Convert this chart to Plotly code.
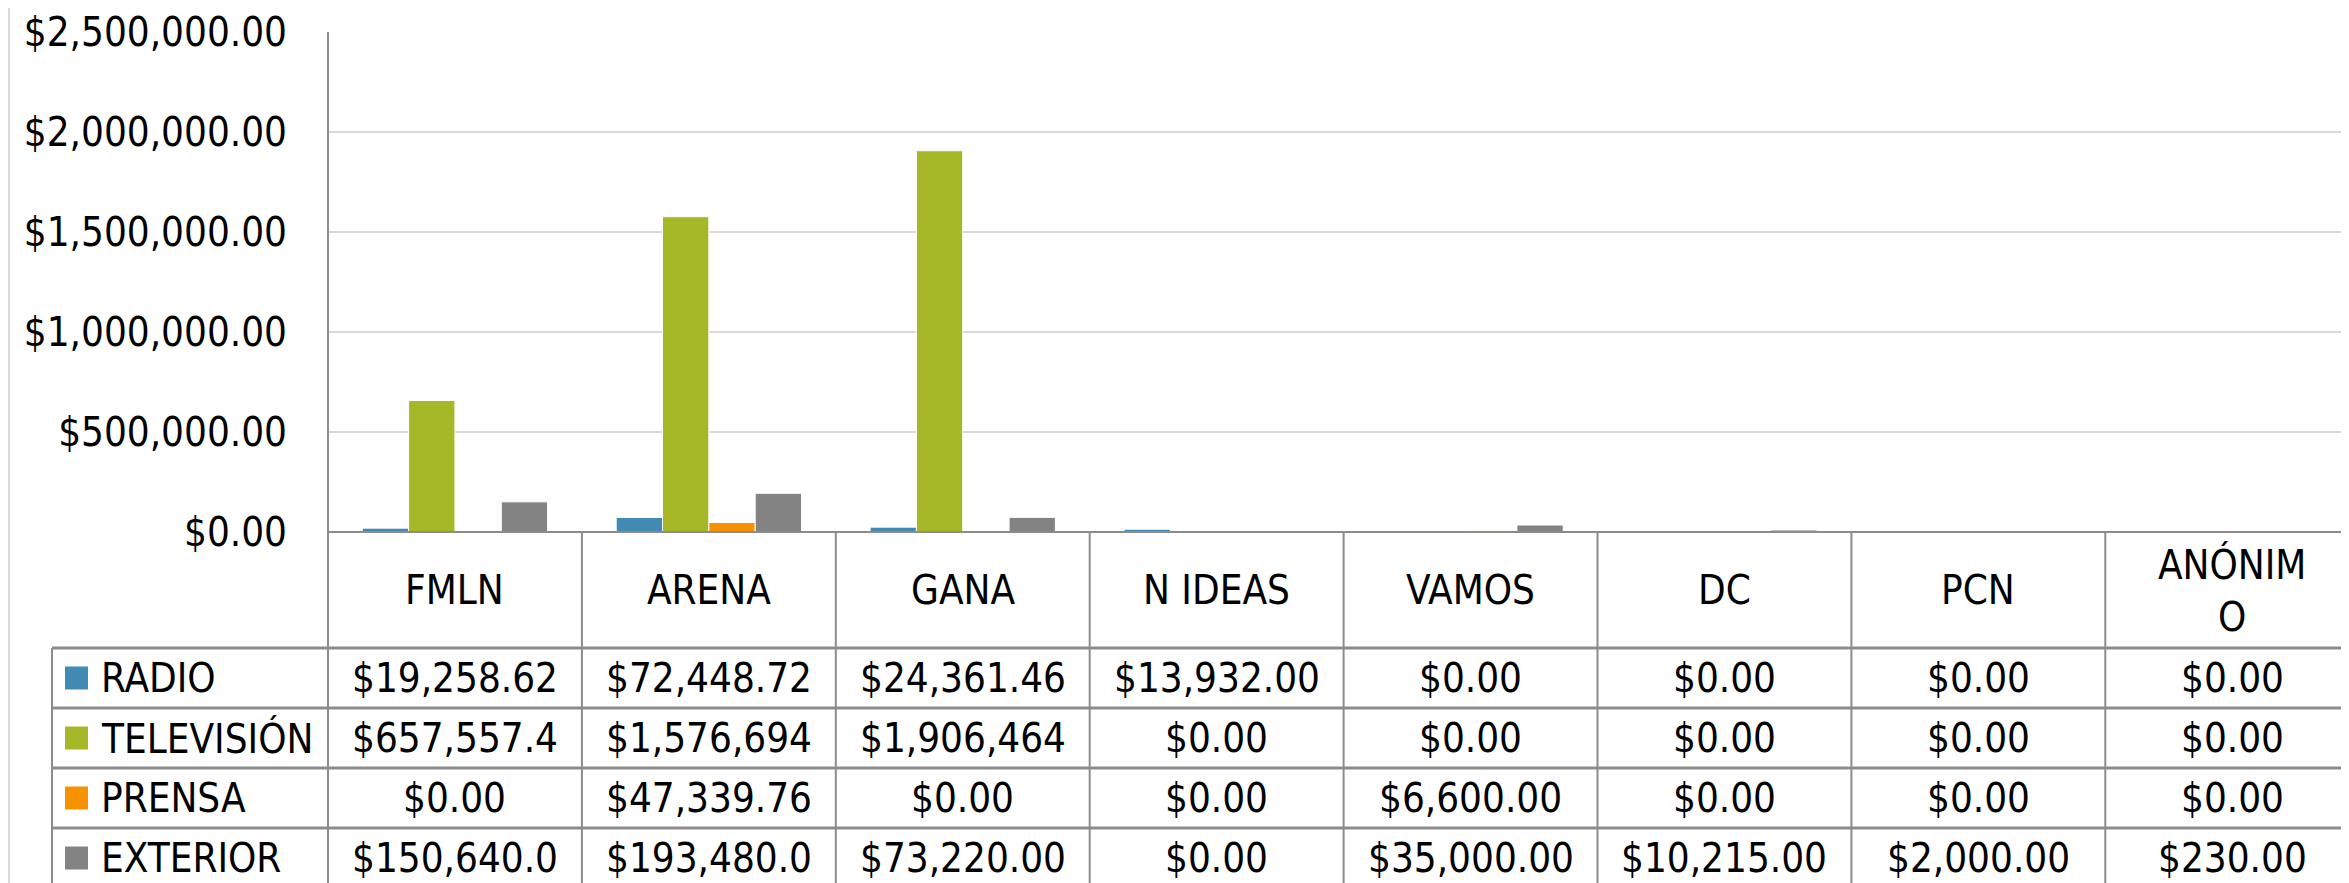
import plotly.graph_objects as go

categories = ["FMLN", "ARENA", "GANA", "N IDEAS", "VAMOS", "DC", "PCN", "ANÓNIMO"]
category_labels = ["FMLN", "ARENA", "GANA", "N IDEAS", "VAMOS", "DC", "PCN", "ANÓNIM<br>O"]
series_names = ["RADIO", "TELEVISIÓN", "PRENSA", "EXTERIOR"]
radio = [19258.62, 72448.72, 24361.46, 13932.00, 0.00, 0.00, 0.00, 0.00]
television = [657557.40, 1576694.00, 1906464.00, 0.00, 0.00, 0.00, 0.00, 0.00]
prensa = [0.00, 47339.76, 0.00, 0.00, 6600.00, 0.00, 0.00, 0.00]
exterior = [150640.00, 193480.00, 73220.00, 0.00, 35000.00, 10215.00, 2000.00, 230.00]
series_values = [radio, television, prensa, exterior]
colors = ["#418AB3", "#A6B727", "#F69200", "#838383"]
y_ticks = [0, 500000, 1000000, 1500000, 2000000, 2500000]
y_tick_labels = ["$0.00", "$500,000.00", "$1,000,000.00", "$1,500,000.00", "$2,000,000.00", "$2,500,000.00"]

W, H = 2349, 883
OFF = 8  # default page body margin
L, T = 328 - OFF, 32 - OFF
B = H - (532 - OFF)
PW = W - L
PH = H - T - B
CAT_W = 253.9
FONT = "DejaVu Sans Condensed, Liberation Sans Narrow, sans-serif"
FS = 40
LINE = "#8C8C8C"


def px(x):
    return (x - OFF - L) / PW


def py(y):
    return (H - B - (y - OFF)) / PH


def fmt(v):
    return ("$" + f"{v:,.2f}")[:10]


n = len(categories)
x_max = -0.5 + PW / CAT_W

fig = go.Figure()
x_idx = list(range(n))
for name, vals, col in zip(series_names, series_values, colors):
    fig.add_trace(go.Bar(x=x_idx, y=vals, name=name, marker=dict(color=col, line=dict(color="white", width=1))))

shapes = []
shapes.append(dict(type="line", xref="paper", yref="paper", x0=0, x1=0, y0=1, y1=py(H + OFF),
                   line=dict(color=LINE, width=2)))
for k in range(1, n):
    shapes.append(dict(type="line", xref="x", yref="paper", x0=k - 0.5, x1=k - 0.5, y0=0, y1=py(H + OFF),
                       line=dict(color=LINE, width=2)))
shapes.append(dict(type="line", xref="paper", yref="paper", x0=0, x1=1, y0=0, y1=0,
                   line=dict(color=LINE, width=2)))
row_lines = [648, 708, 768, 828]
for yl in row_lines:
    shapes.append(dict(type="line", xref="paper", yref="paper", x0=px(52), x1=1, y0=py(yl), y1=py(yl),
                       line=dict(color=LINE, width=3)))
shapes.append(dict(type="line", xref="paper", yref="paper", x0=px(52), x1=px(52), y0=py(648), y1=py(H + OFF),
                   line=dict(color=LINE, width=2)))
shapes.append(dict(type="line", xref="paper", yref="paper", x0=px(OFF + 1), x1=px(OFF + 1), y0=py(OFF), y1=py(H + OFF),
                   line=dict(color="#D9D9D9", width=2)))

annotations = []
for i, lab in enumerate(category_labels):
    annotations.append(dict(x=i, y=py(590), xref="x", yref="paper", text=lab, showarrow=False,
                            font=dict(family=FONT, size=FS, color="black"), xanchor="center", yanchor="middle"))

row_centers = [678, 738, 798, 858]
for r, (name, vals, col) in enumerate(zip(series_names, series_values, colors)):
    yc = row_centers[r]
    shapes.append(dict(type="rect", xref="paper", yref="paper", x0=px(65), x1=px(88), y0=py(yc - 11.5), y1=py(yc + 11.5),
                       fillcolor=col, line=dict(width=0)))
    annotations.append(dict(x=px(99), y=py(yc), xref="paper", yref="paper", text=name, showarrow=False,
                            font=dict(family=FONT, size=FS, color="black"), xanchor="left", yanchor="middle"))
    for i, v in enumerate(vals):
        annotations.append(dict(x=i, y=py(yc), xref="x", yref="paper", text=fmt(v), showarrow=False,
                                font=dict(family=FONT, size=FS, color="black"), xanchor="center", yanchor="middle"))

fig.update_layout(
    width=W, height=H,
    margin=dict(l=L, r=0, t=T, b=B, pad=0),
    paper_bgcolor="white", plot_bgcolor="white",
    barmode="group", bargap=0.27, bargroupgap=0,
    showlegend=False,
    shapes=shapes, annotations=annotations,
    xaxis=dict(range=[-0.5, x_max], showticklabels=False, showgrid=False, zeroline=False,
               showline=False, ticks="", automargin=False),
    yaxis=dict(range=[0, 2500000], tickvals=y_ticks, ticktext=y_tick_labels, showgrid=True,
               gridcolor="#D9D9D9", gridwidth=2, zeroline=False, showline=False, ticks="",
               automargin=False, ticklabelstandoff=40,
               tickfont=dict(family=FONT, size=FS, color="black")),
)
fig.write_html("out.html")
